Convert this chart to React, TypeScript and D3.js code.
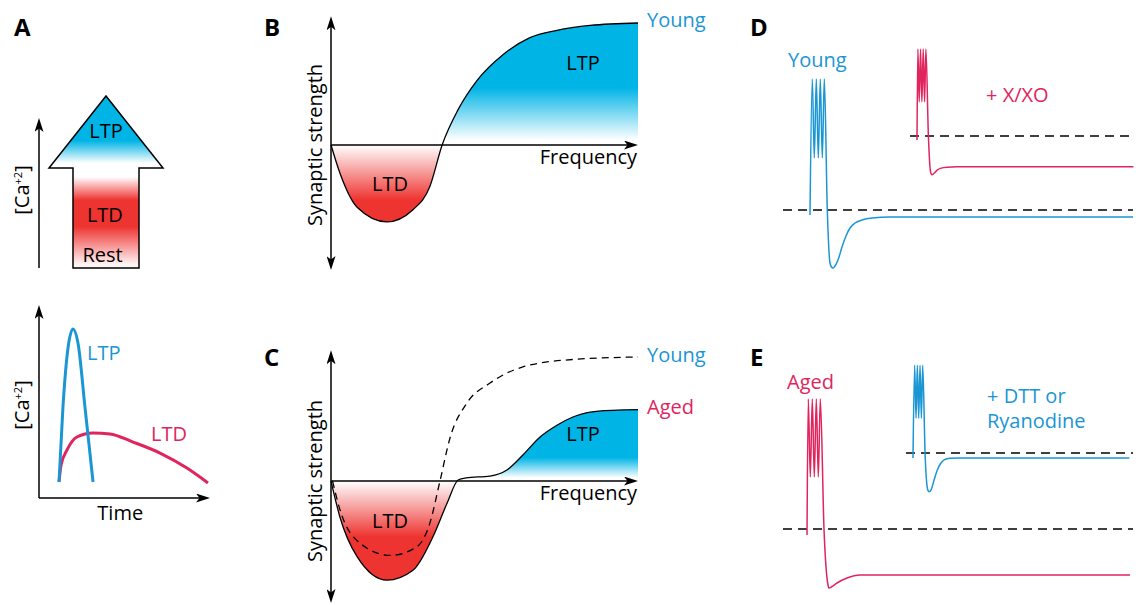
import * as d3 from "d3";

type Pt = [number, number];

// ---- panel A (top): the calcium arrow, x -1..1 across, y 0 (bottom) .. 1 (tip)
const arrowOutline: Pt[] = [
  [0, 1], [1, 0.581], [0.579, 0.581], [0.579, 0],
  [-0.579, 0], [-0.579, 0.581], [-1, 0.581],
];

// ---- panel A (bottom): Ca2+ transients, time 0-100 vs [Ca2+] 0-100
const ltpCalcium: Pt[] = [
  [11.7, 8.3], [14, 47], [17, 78], [19.9, 87.6], [22.8, 80.3], [26.9, 47], [31.6, 8.3],
];
const ltdCalcium: Pt[] = [
  [11.7, 8.3], [12.9, 17], [16.4, 24.9], [22.2, 31.6], [31.6, 33.7], [41.5, 33.2],
  [55, 29], [70.8, 23.3], [86.5, 15.5], [98.8, 7.8],
];

// ---- panels B & C: frequency 0-100 vs synaptic strength (young plateau = 1)
const youngCurveB: Pt[] = [
  [0, 0], [2.9, -0.23], [8.5, -0.51], [18.2, -0.63], [26.7, -0.53], [32.2, -0.34],
  [36.2, 0], [41.4, 0.29], [47.6, 0.53], [56, 0.74], [64.8, 0.88], [73.6, 0.94],
  [84.4, 0.98], [100, 1],
];
const youngCurveC: Pt[] = [
  [0.5, 0], [2.9, -0.23], [9.4, -0.5], [19.2, -0.6], [28, -0.53], [32.2, -0.34],
  [35.5, 0], [38.8, 0.35], [44.3, 0.63], [51.8, 0.79], [62.5, 0.92], [78.8, 0.98], [100, 1],
];
const agedCurve: Pt[] = [
  [0, 0], [2.9, -0.29], [8.5, -0.61], [18.2, -0.8], [26.7, -0.72], [33.2, -0.45],
  [37.8, -0.18], [41.5, 0.01], [44, 0.025], [51.8, 0.04], [57.3, 0.089], [62.5, 0.21],
  [68.1, 0.355], [73.6, 0.45], [78.8, 0.516], [84.4, 0.556], [95.1, 0.573], [100, 0.575],
];

// ---- panels D & E: membrane traces, time vs potential above the dashed resting level
const youngTrace: Pt[] = [
  [0, -5], [2.3, 131], [4.3, 52], [6.3, 131], [8.3, 52], [10.3, 131], [12.3, 52], [14.3, 131],
  [17.3, 0], [20, -53], [21.5, -57], [23, -58], [25, -56], [28, -50], [32, -37], [36, -26],
  [40, -18], [45, -13], [52, -10], [62, -8], [80, -7], [323, -7],
];
const xxoTrace: Pt[] = [
  [0, -6], [1.3, 130], [3.3, 51], [5.3, 130], [7.3, 51], [9.3, 130], [11.3, 51], [13.3, 130],
  [17, 0], [20.5, -55], [22.4, -58], [25, -56], [30, -51], [36, -48], [45, -46.5], [60, -46],
  [323, -46],
];
const agedTrace: Pt[] = [
  [0, -6], [1.3, 130], [3.3, 52], [5.3, 130], [7.3, 52], [9.3, 130], [11.3, 52], [13.3, 130],
  [17, 0], [21, -56], [22, -59], [25, -57.5], [30, -54], [40, -49], [53, -46], [323, -46],
];
const dttTrace: Pt[] = [
  [0, -7.5], [2.5, 131], [4.5, 52], [6.5, 131], [8.5, 52], [10.5, 131], [12.5, 52], [14.5, 131],
  [18, 0], [22, -55], [24, -58], [27, -55], [31, -42], [36, -26], [41, -16], [47, -10],
  [55, -8], [70, -7.5], [323, -7.5],
];

const BLUE_FILL = "#00b4e6";
const RED_FILL = "#ee3431";
const BLUE_INK = "#1a96d3";
const PINK_INK = "#e0245e";
const FONT = "'Open Sans', 'Noto Sans', sans-serif";
const FS = 20;

const lineOf = (xs: d3.ScaleLinear<number, number>, ys: d3.ScaleLinear<number, number>,
  curve: d3.CurveFactory = d3.curveMonotoneX) =>
  d3.line<Pt>().x(d => xs(d[0])).y(d => ys(d[1])).curve(curve);

const areaOf = (xs: d3.ScaleLinear<number, number>, ys: d3.ScaleLinear<number, number>) =>
  d3.area<Pt>().x(d => xs(d[0])).y0(ys(0)).y1(d => ys(d[1])).curve(d3.curveMonotoneX);

const Ca = ({ x, y }: { x: number; y: number }) => (
  <text transform={`translate(${x},${y}) rotate(-90)`} textAnchor="middle" fontSize={FS}>
    [Ca<tspan dy={-7} fontSize={11}>+2</tspan><tspan dy={7}>]</tspan>
  </text>
);

export default function App() {
  // panel A scales
  const ax = d3.scaleLinear([-1, 1], [49, 163]);
  const ay = d3.scaleLinear([0, 1], [268, 96]);
  const tx = d3.scaleLinear([0, 100], [39, 210]);
  const cy = d3.scaleLinear([0, 100], [498, 305]);
  // panels B, C
  const fx = d3.scaleLinear([0, 100], [331, 638]);
  const sB = d3.scaleLinear([0, 1], [145, 23]);
  const sC = d3.scaleLinear([0, 1], [481, 357]);
  // panels D, E traces
  const tScale = (x0: number, k: number) => d3.scaleLinear([0, 323], [x0, x0 + 323 * k]);
  const vScale = (y0: number, k: number) => d3.scaleLinear([0, 100], [y0, y0 - 100 * k]);
  const traces = [
    { data: youngTrace, xs: tScale(810, 1), ys: vScale(210, 1), color: BLUE_INK, dash: [783, 1133] },
    { data: xxoTrace, xs: tScale(917, 0.67), ys: vScale(136, 0.67), color: PINK_INK, dash: [910, 1133] },
    { data: agedTrace, xs: tScale(807, 1), ys: vScale(529, 1), color: PINK_INK, dash: [783, 1133] },
    { data: dttTrace, xs: tScale(913, 0.67), ys: vScale(453, 0.67), color: BLUE_INK, dash: [906, 1133] },
  ];

  const arrowPath = d3.line<Pt>().x(d => ax(d[0])).y(d => ay(d[1]))(arrowOutline) + "Z";
  const arrowStops: [number, string][] = [
    [1, BLUE_FILL], [0.74, BLUE_FILL], [0.61, "#ffffff"], [0.53, "#ffffff"],
    [0.395, RED_FILL], [0.24, RED_FILL], [0.02, "#fff4f4"],
  ];
  const gradB: [number, string][] = [
    [1, BLUE_FILL], [0.47, BLUE_FILL], [0.04, "#ffffff"], [0, "#ffffff"], [-0.45, RED_FILL], [-0.7, RED_FILL],
  ];
  const gradC: [number, string][] = [
    [0.6, BLUE_FILL], [0.19, BLUE_FILL], [0.025, "#ffffff"], [0, "#ffffff"], [-0.45, RED_FILL], [-0.85, RED_FILL],
  ];

  const grad = (id: string, ys: d3.ScaleLinear<number, number>, stops: [number, string][]) => {
    const y1 = ys(stops[0][0]);
    const y2 = ys(stops[stops.length - 1][0]);
    return (
      <linearGradient id={id} gradientUnits="userSpaceOnUse" x1={0} x2={0} y1={y1} y2={y2}>
        {stops.map(([v, c], i) => (
          <stop key={i} offset={(ys(v) - y1) / (y2 - y1)} stopColor={c} />
        ))}
      </linearGradient>
    );
  };

  const ax1 = { stroke: "#000", strokeWidth: 1.5 };

  return (
    <svg width={1139} height={605} style={{ position: "absolute", left: 0, top: 0, display: "block" }}
      fontFamily={FONT} fill="#000">
      <defs>
        <marker id="ah" viewBox="0 0 14 9" refX={11} refY={4.5} markerWidth={14} markerHeight={9}
          markerUnits="userSpaceOnUse" orient="auto-start-reverse">
          <path d="M0,0 L14,4.5 L0,9 L3.5,4.5 Z" fill="#000" />
        </marker>
        {grad("gArrow", ay, arrowStops)}
        {grad("gB", sB, gradB)}
        {grad("gC", sC, gradC)}
      </defs>

      {/* panel letters */}
      {[["A", 14, 36], ["B", 264, 36], ["C", 264, 366], ["D", 750, 36], ["E", 750, 366]].map(([l, x, y]) => (
        <text key={l as string} x={x as number} y={y as number} fontSize={24} fontWeight={700}>{l}</text>
      ))}

      {/* ---------- A top ---------- */}
      <line x1={39} y1={ay(0)} x2={39} y2={121} {...ax1} markerEnd="url(#ah)" />
      <Ca x={29} y={190} />
      <path d={arrowPath} fill="url(#gArrow)" stroke="#000" strokeWidth={1.5} />
      <text x={ax(0)} y={ay(0.756)} textAnchor="middle" fontSize={FS}>LTP</text>
      <text x={ax(-0.02)} y={ay(0.267)} textAnchor="middle" fontSize={FS}>LTD</text>
      <text x={ax(-0.06)} y={ay(0.035)} textAnchor="middle" fontSize={FS}>Rest</text>

      {/* ---------- A bottom ---------- */}
      <line x1={tx(0)} y1={cy(0)} x2={tx(0)} y2={cy(0) - 190} {...ax1} markerEnd="url(#ah)" />
      <line x1={tx(0)} y1={cy(0)} x2={tx(100) - 3} y2={cy(0)} {...ax1} markerEnd="url(#ah)" />
      <Ca x={29} y={405} />
      <text x={tx(47.5)} y={520} textAnchor="middle" fontSize={FS}>Time</text>
      <path d={lineOf(tx, cy)(ltdCalcium) ?? ""} fill="none" stroke={PINK_INK} strokeWidth={3} />
      <path d={lineOf(tx, cy)(ltpCalcium) ?? ""} fill="none" stroke={BLUE_INK} strokeWidth={3} />
      <text x={87} y={360} fontSize={FS} fill={BLUE_INK}>LTP</text>
      <text x={151} y={441} fontSize={FS} fill={PINK_INK}>LTD</text>

      {/* ---------- B ---------- */}
      <path d={areaOf(fx, sB)(youngCurveB) ?? ""} fill="url(#gB)" />
      <line x1={fx(0)} y1={sB(-1.0)} x2={fx(0)} y2={sB(1.03)} {...ax1} markerStart="url(#ah)" markerEnd="url(#ah)" />
      <line x1={fx(0)} y1={sB(0)} x2={fx(100) - 3} y2={sB(0)} {...ax1} markerEnd="url(#ah)" />
      <path d={lineOf(fx, sB)(youngCurveB) ?? ""} fill="none" stroke="#000" strokeWidth={1.3} />
      <text x={583} y={70} textAnchor="middle" fontSize={FS}>LTP</text>
      <text x={390} y={191} textAnchor="middle" fontSize={FS}>LTD</text>
      <text x={637} y={164} textAnchor="end" fontSize={FS}>Frequency</text>
      <text x={647} y={27} fontSize={FS} fill={BLUE_INK}>Young</text>
      <text transform={`translate(322,${sB(0)}) rotate(-90)`} textAnchor="middle" fontSize={FS}>Synaptic strength</text>

      {/* ---------- C ---------- */}
      <path d={areaOf(fx, sC)(agedCurve) ?? ""} fill="url(#gC)" />
      <line x1={fx(0)} y1={sC(-0.96)} x2={fx(0)} y2={sC(1.03)} {...ax1} markerStart="url(#ah)" markerEnd="url(#ah)" />
      <line x1={fx(0)} y1={sC(0)} x2={fx(100) - 3} y2={sC(0)} {...ax1} markerEnd="url(#ah)" />
      <path d={lineOf(fx, sC)(youngCurveC) ?? ""} fill="none" stroke="#000" strokeWidth={1.3} strokeDasharray="7,5" />
      <path d={lineOf(fx, sC)(agedCurve) ?? ""} fill="none" stroke="#000" strokeWidth={1.3} />
      <text x={583} y={441} textAnchor="middle" fontSize={FS}>LTP</text>
      <text x={390} y={528} textAnchor="middle" fontSize={FS}>LTD</text>
      <text x={637} y={500} textAnchor="end" fontSize={FS}>Frequency</text>
      <text x={647} y={362} fontSize={FS} fill={BLUE_INK}>Young</text>
      <text x={647} y={414} fontSize={FS} fill={PINK_INK}>Aged</text>
      <text transform={`translate(322,${sC(0)}) rotate(-90)`} textAnchor="middle" fontSize={FS}>Synaptic strength</text>

      {/* ---------- D & E ---------- */}
      {traces.map((t, i) => (
        <g key={i}>
          <line x1={t.dash[0]} x2={t.dash[1]} y1={t.ys(0)} y2={t.ys(0)} stroke="#000" strokeWidth={1.3} strokeDasharray="9,6" />
          <path d={lineOf(t.xs, t.ys)(t.data) ?? ""} fill="none" stroke={t.color} strokeWidth={1.5} />
        </g>
      ))}
      <text x={788} y={67} fontSize={FS} fill={BLUE_INK}>Young</text>
      <text x={986} y={102} fontSize={FS} fill={PINK_INK}>+ X/XO</text>
      <text x={787} y={389} fontSize={FS} fill={PINK_INK}>Aged</text>
      <text x={987} y={403} fontSize={FS} fill={BLUE_INK}>+ DTT or</text>
      <text x={987} y={428} fontSize={FS} fill={BLUE_INK}>Ryanodine</text>
    </svg>
  );
}
